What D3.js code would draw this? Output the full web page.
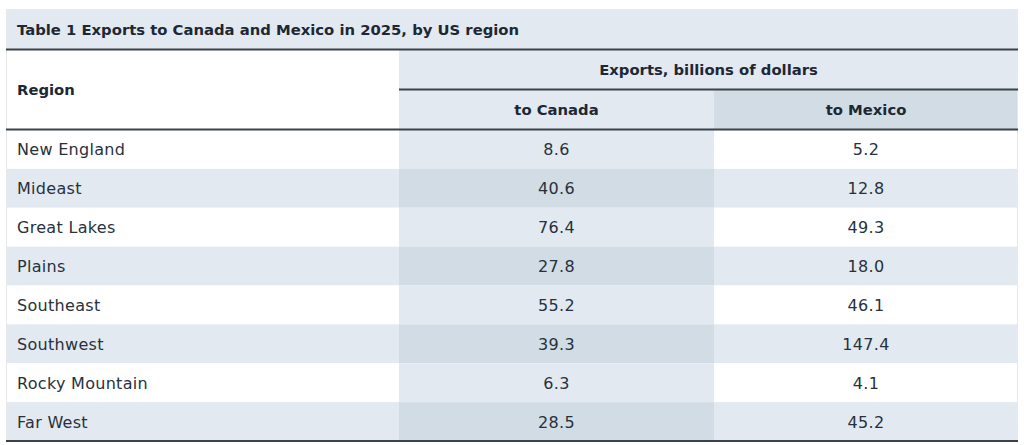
<!DOCTYPE html>
<html>
<head>
<meta charset="utf-8">
<script src="https://cdn.jsdelivr.net/npm/d3@7"></script>
<style>
  body { margin: 0; background: #fff; }
  text { font-family: "DejaVu Sans", sans-serif; fill: #1d2834; }
  .bold { font-weight: 700; font-size: 14.8px; }
  .cell { font-size: 16px; letter-spacing: 0.3px; fill: #27313c; }
</style>
</head>
<body>
<script>
var title = "Table 1 Exports to Canada and Mexico in 2025, by US region";
var groupHeader = "Exports, billions of dollars";
var regionHeader = "Region";
var columns = ["to Canada", "to Mexico"];
var regions = ["New England", "Mideast", "Great Lakes", "Plains", "Southeast", "Southwest", "Rocky Mountain", "Far West"];
var toCanada = [8.6, 40.6, 76.4, 27.8, 55.2, 39.3, 6.3, 28.5];
var toMexico = [5.2, 12.8, 49.3, 18.0, 46.1, 147.4, 4.1, 45.2];

var w = 1024, h = 445;
var left = 6, right = 1018;
var colX = [left, 399, 714, right];   // column edges
var light = "#e3e9f1", dark = "#d2dce5", line = "#3b4249";

var svg = d3.select("body").append("svg")
    .attr("width", w)
    .attr("height", h);

// title bar
svg.append("rect")
    .attr("x", left).attr("y", 9)
    .attr("width", right - left).attr("height", 40)
    .attr("fill", light);

svg.append("text")
    .attr("class", "bold")
    .attr("x", 17).attr("y", 35)
    .text(title);

// header rows
svg.append("rect")
    .attr("x", colX[1]).attr("y", 50)
    .attr("width", right - colX[1]).attr("height", 79)
    .attr("fill", light);

svg.append("rect")
    .attr("x", colX[2]).attr("y", 90)
    .attr("width", right - colX[2]).attr("height", 39)
    .attr("fill", dark);

svg.append("text")
    .attr("class", "bold")
    .attr("x", 17).attr("y", 95)
    .text(regionHeader);

svg.append("text")
    .attr("class", "bold")
    .attr("x", (colX[1] + right) / 2).attr("y", 75)
    .attr("text-anchor", "middle")
    .text(groupHeader);

svg.selectAll("text.colhead")
    .data(columns)
    .enter()
    .append("text")
    .attr("class", "colhead bold")
    .attr("x", function(d, i) { return (colX[i + 1] + colX[i + 2]) / 2; })
    .attr("y", 115)
    .attr("text-anchor", "middle")
    .text(function(d) { return d; });

// body rows
var yScale = d3.scaleBand()
    .domain(regions)
    .range([130, 441]);

var rows = svg.selectAll("g.row")
    .data(regions)
    .enter()
    .append("g")
    .attr("class", "row")
    .attr("transform", function(d) { return "translate(0," + yScale(d) + ")"; });

// region + mexico cells share a colour, canada cell is one shade darker
rows.append("rect")
    .attr("x", colX[0])
    .attr("width", colX[1] - colX[0])
    .attr("height", yScale.bandwidth())
    .attr("fill", function(d, i) { return i % 2 ? light : "#fff"; });

rows.append("rect")
    .attr("x", colX[1])
    .attr("width", colX[2] - colX[1])
    .attr("height", yScale.bandwidth())
    .attr("fill", function(d, i) { return i % 2 ? dark : light; });

rows.append("rect")
    .attr("x", colX[2])
    .attr("width", colX[3] - colX[2])
    .attr("height", yScale.bandwidth())
    .attr("fill", function(d, i) { return i % 2 ? light : "#fff"; });

rows.append("text")
    .attr("class", "cell")
    .attr("x", 17)
    .attr("y", yScale.bandwidth() / 2 + 6)
    .text(function(d) { return d; });

rows.append("text")
    .attr("class", "cell")
    .attr("x", (colX[1] + colX[2]) / 2)
    .attr("y", yScale.bandwidth() / 2 + 6)
    .attr("text-anchor", "middle")
    .text(function(d, i) { return toCanada[i].toFixed(1); });

rows.append("text")
    .attr("class", "cell")
    .attr("x", (colX[2] + colX[3]) / 2)
    .attr("y", yScale.bandwidth() / 2 + 6)
    .attr("text-anchor", "middle")
    .text(function(d, i) { return toMexico[i].toFixed(1); });

// thin outer border
svg.append("line")
    .attr("x1", left + 0.5).attr("y1", 9).attr("x2", left + 0.5).attr("y2", 441)
    .attr("stroke", "#e6e8ea").attr("stroke-width", 1);
svg.append("line")
    .attr("x1", right - 0.5).attr("y1", 9).attr("x2", right - 0.5).attr("y2", 441)
    .attr("stroke", "#e6e8ea").attr("stroke-width", 1);
svg.append("line")
    .attr("x1", left).attr("y1", 9.5).attr("x2", right).attr("y2", 9.5)
    .attr("stroke", "#e6e8ea").attr("stroke-width", 1);

// rules
svg.append("line")
    .attr("x1", left).attr("y1", 49.5).attr("x2", right).attr("y2", 49.5)
    .attr("stroke", line).attr("stroke-width", 2);
svg.append("line")
    .attr("x1", colX[1]).attr("y1", 89.5).attr("x2", right).attr("y2", 89.5)
    .attr("stroke", line).attr("stroke-width", 2);
svg.append("line")
    .attr("x1", left).attr("y1", 129.5).attr("x2", right).attr("y2", 129.5)
    .attr("stroke", line).attr("stroke-width", 2);
svg.append("line")
    .attr("x1", left).attr("y1", 441).attr("x2", right).attr("y2", 441)
    .attr("stroke", line).attr("stroke-width", 2);
</script>
</body>
</html>
